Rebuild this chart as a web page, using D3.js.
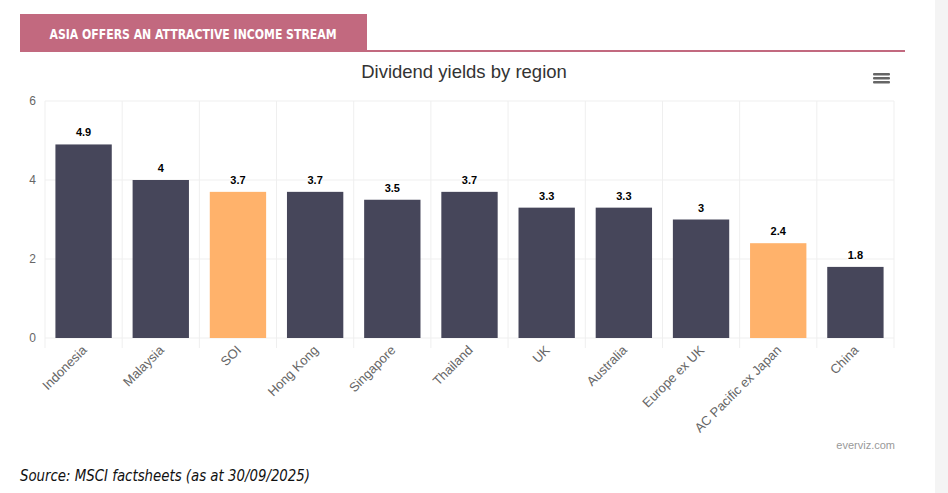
<!DOCTYPE html>
<html><head><meta charset="utf-8">
<script src="https://cdn.jsdelivr.net/npm/d3@7"></script>
<style>
html,body{margin:0;padding:0;background:#fff;}
</style></head>
<body>
<script>
const categories = ["Indonesia","Malaysia","SOI","Hong Kong","Singapore","Thailand","UK","Australia","Europe ex UK","AC Pacific ex Japan","China"];
const values = [4.9,4,3.7,3.7,3.5,3.7,3.3,3.3,3,2.4,1.8];
const highlighted = ["SOI","AC Pacific ex Japan"];
const yTicks = [0,2,4,6];

(function(){
const W = 948, H = 493;
const svg = d3.select("body").append("svg").attr("width", W).attr("height", H).style("display","block");

// right gray strip
svg.append("rect").attr("x", 935).attr("y", 0).attr("width", 13).attr("height", H).attr("fill", "#f4f4f4");

// header
svg.append("rect").attr("x", 20).attr("y", 14).attr("width", 347).attr("height", 37).attr("fill", "#c2697f");
svg.append("rect").attr("x", 20).attr("y", 50).attr("width", 885).attr("height", 2).attr("fill", "#c2697f");
svg.append("text").attr("x", 193).attr("y", 38.5).attr("text-anchor", "middle")
  .attr("font-family", "DejaVu Sans Condensed, DejaVu Sans").attr("font-weight", "bold")
  .attr("font-size", 13.5).attr("fill", "#fff")
  .attr("textLength", 287).attr("lengthAdjust", "spacingAndGlyphs")
  .text("ASIA OFFERS AN ATTRACTIVE INCOME STREAM");

// title
svg.append("text").attr("x", 464).attr("y", 78).attr("text-anchor", "middle")
  .attr("font-family", "Liberation Sans, Arial").attr("font-size", 18.5).attr("fill", "#333")
  .text("Dividend yields by region");

// hamburger
[0,4,8].forEach(d => svg.append("rect").attr("x", 873).attr("y", 73 + d).attr("width", 17).attr("height", 2.5).attr("rx", 1).attr("fill", "#666"));

const pLeft = 45, pRight = 894, pTop = 101, pBottom = 338;
const x = d3.scaleBand().domain(categories).range([pLeft, pRight]).paddingInner(0.27).paddingOuter(0.135);
const xg = d3.scaleBand().domain(categories).range([pLeft, pRight]);
const y = d3.scaleLinear().domain([0, 6]).range([pBottom, pTop]);

// grid
const g = svg.append("g");
g.selectAll(".hg").data(yTicks).enter().append("line")
  .attr("x1", pLeft).attr("x2", pRight).attr("y1", d => y(d)).attr("y2", d => y(d))
  .attr("stroke", "#efefef").attr("stroke-width", 1);
const vlines = categories.map(c => xg(c)).concat([pRight]);
g.selectAll(".vg").data(vlines).enter().append("line")
  .attr("x1", d => d).attr("x2", d => d).attr("y1", pTop).attr("y2", pBottom + 10)
  .attr("stroke", "#efefef").attr("stroke-width", 1);

// y axis labels
const yAxis = d3.axisLeft(y).tickValues(yTicks).tickFormat(d3.format("d")).tickSize(0).tickPadding(9);
const ya = svg.append("g").attr("transform", `translate(${pLeft},0)`).call(yAxis);
ya.select(".domain").remove();
ya.selectAll("text").attr("font-family", "Liberation Sans, Arial").attr("font-size", 12).attr("fill", "#666");

// bars
svg.selectAll(".bar").data(categories).enter().append("rect")
  .attr("x", d => x(d)).attr("width", x.bandwidth())
  .attr("y", (d, i) => y(values[i])).attr("height", (d, i) => y(0) - y(values[i]))
  .attr("fill", d => highlighted.includes(d) ? "#ffb26b" : "#46465a");

// labels
svg.selectAll(".lbl").data(categories).enter().append("text")
  .attr("x", d => x(d) + x.bandwidth() / 2).attr("y", (d, i) => y(values[i]) - 8)
  .attr("text-anchor", "middle").attr("font-family", "Liberation Sans, Arial")
  .attr("font-weight", "bold").attr("font-size", 11).attr("fill", "#000")
  .attr("stroke", "#fff").attr("stroke-width", 2).attr("paint-order", "stroke")
  .text((d, i) => values[i]);

// x labels
const xAxis = d3.axisBottom(xg).tickSize(0).tickPadding(0);
const xa = svg.append("g").attr("transform", `translate(0,${pBottom})`).call(xAxis);
xa.select(".domain").remove();
xa.selectAll("text")
  .attr("font-family", "Liberation Sans, Arial").attr("font-size", 13).attr("fill", "#666")
  .attr("text-anchor", "end").attr("dy", null).attr("y", 0)
  .attr("transform", "translate(4,13) rotate(-45)");

// credits
svg.append("text").attr("x", 895).attr("y", 449).attr("text-anchor", "end")
  .attr("font-family", "Liberation Sans, Arial").attr("font-size", 11).attr("fill", "#999")
  .text("everviz.com");

// source
svg.append("text").attr("x", 20).attr("y", 481)
  .attr("font-family", "DejaVu Sans Condensed, DejaVu Sans").attr("font-style", "italic")
  .attr("font-size", 15.5).attr("fill", "#111")
  .attr("textLength", 290).attr("lengthAdjust", "spacingAndGlyphs")
  .text("Source: MSCI factsheets (as at 30/09/2025)");
})();
</script>
</body></html>
